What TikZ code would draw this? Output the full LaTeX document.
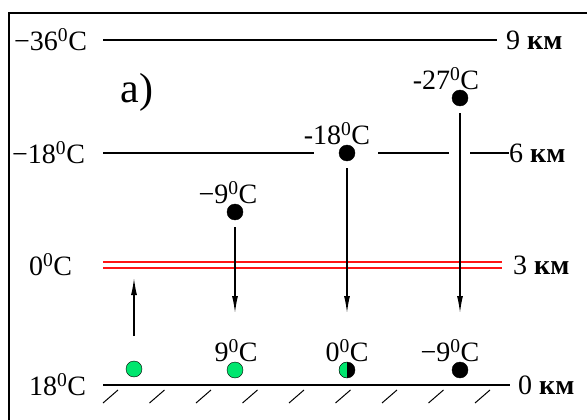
\documentclass[tikz,border=0pt]{standalone}
\usepackage{fontspec}
\setmainfont{Liberation Serif}
\usetikzlibrary{arrows.meta}

\definecolor{airgreen}{RGB}{0,230,110}
\definecolor{frostred}{RGB}{255,20,20}
\newcommand{\tempC}[1]{#1\textsuperscript{0}C}

\tikzset{
  dot/.style={circle, draw, fill=black, minimum size=16pt, inner sep=0pt},
  warm/.style={dot, fill=airgreen},
  half/.style={dot, path picture={\fill[airgreen] (path picture bounding box.north west) rectangle (path picture bounding box.south);}},
  tlab/.style={anchor=base, inner sep=0pt},
  side/.style={anchor=west, inner sep=0pt},
  level/.style={line width=1.3pt},
  frost/.style={draw=frostred, line width=1.6pt},
  fall/.style={line width=1.3pt, -{Latex[length=17pt,width=6pt]}},
}

\begin{document}
\begin{tikzpicture}[x=1pt, y=-1pt, font=\fontsize{28}{32}\selectfont]
  \useasboundingbox (0,0) rectangle (587,420);
  % frame, cut off on the right and below
  \draw[line width=1.6pt] (9,420) -- (9,13) -- (587,13);

  % temperatures on the left
  \node[side] (c36) at (14,40)  {\tempC{−36}};
  \node[side] (c18) at (12,153) {\tempC{−18}};
  \node[side] (c0)  at (29,265) {\tempC{0}};
  \node[side] (cg)  at (29,385) {\tempC{18}};
  % heights on the right
  \node[side] (k9) at (506,40)  {9 \textbf{км}};
  \node[side] (k6) at (509,153) {6 \textbf{км}};
  \node[side] (k3) at (513,265) {3 \textbf{км}};
  \node[side] (k0) at (518,385) {0 \textbf{км}};
  \node[font=\fontsize{42}{46}\selectfont] (panel) at (137,92) {a)};

  % air parcels
  \node[warm] (g1) at (134,369) {};
  \node[warm] (g2) at (235,370) {};
  \node[half] (g3) at (347,370) {};
  \node[dot]  (g4) at (460,370) {};
  \node[dot]  (m2) at (235,212) {};
  \node[dot]  (m3) at (347,153) {};
  \node[dot]  (m4) at (460,98)  {};
  \node[tlab] (tg2) at ([xshift=1pt]g2.north)   {\tempC{9}};
  \node[tlab] (tg3) at (g3.north)               {\tempC{0}};
  \node[tlab] (tg4) at ([xshift=-10pt]g4.north) {\tempC{−9}};
  \node[tlab] (tm2) at ([xshift=-7pt]m2.north)  {\tempC{−9}};
  \node[tlab] (tm3) at ([xshift=-10pt]m3.north) {\tempC{-18}};
  \node[tlab] (tm4) at ([xshift=-14pt]m4.north) {\tempC{-27}};

  % levels
  \coordinate (L9) at (103,40);
  \coordinate (L6) at (103,153);
  \coordinate (L3) at (103,265);
  \coordinate (L0) at (103,385);
  \draw[level, shorten >=9pt] (L9) -- (k9.west);
  \draw[level] (L6) -- ([xshift=-33pt]m3.center)
               ([xshift=31pt]m3.center) -- ([xshift=-11pt]m4 |- L6)
               ([xshift=10pt]m4 |- L6) -- (k6.west);
  % freezing level
  \draw[frost] ([yshift=3pt]L3) -- ([xshift=-11pt,yshift=3pt]k3.west);
  \draw[frost] ([yshift=-3pt]L3) -- ([xshift=-11pt,yshift=-3pt]k3.west);
  \draw[level, shorten >=8pt] (L0) -- (k0.west);
  % ground hatching
  \foreach \x in {103,149.5,...,476}
    \draw[line width=1pt] (\x,403) -- ++(15,-13);

  % rising and sinking
  \coordinate (u1) at (134,336);
  \coordinate (u2) at (134,278);
  \coordinate (tip) at (0,313);
  \draw[fall] (u1) -- (u2);
  \draw[fall, shorten <=7pt] (m2.south) -- (m2 |- tip);
  \draw[fall, shorten <=7pt] (m3.south) -- (m3 |- tip);
  \draw[fall, shorten <=7pt] (m4.south) -- (m4 |- tip);
\end{tikzpicture}
\end{document}
